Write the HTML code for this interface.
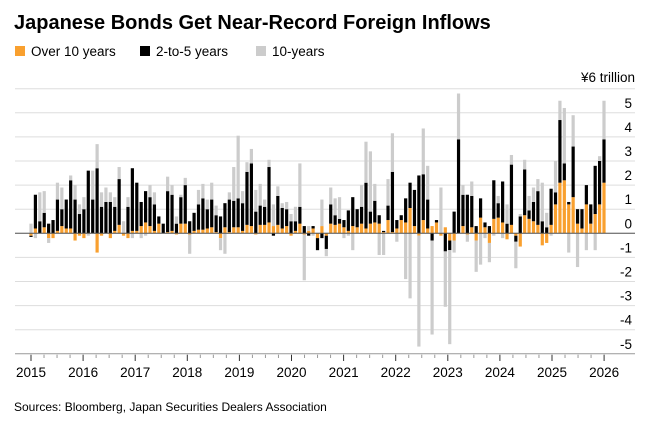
<!DOCTYPE html>
<html><head><meta charset="utf-8"><style>
body{margin:0;background:#fff;width:650px;height:425px;overflow:hidden;font-family:"Liberation Sans",sans-serif}
</style></head><body>
<svg id="c" width="650" height="425" xmlns="http://www.w3.org/2000/svg" font-family="Liberation Sans, sans-serif">
<text x="14" y="29" font-size="20" font-weight="bold" fill="#000">Japanese Bonds Get Near-Record Foreign Inflows</text>
<rect x="15" y="46" width="10" height="10" fill="#f9a02f"/><text x="31" y="56" font-size="13.5">Over 10 years</text>
<rect x="140" y="46" width="10" height="10" fill="#000"/><text x="156" y="56" font-size="13.5">2-to-5 years</text>
<rect x="256" y="46" width="10" height="10" fill="#ccc"/><text x="272" y="56" font-size="13.5">10-years</text>
<text x="635" y="82" font-size="13.5" text-anchor="end">¥6 trillion</text>
<g id="grid"></g>
<g id="bars"></g>
<text x="14" y="411" font-size="12">Sources: Bloomberg, Japan Securities Dealers Association</text>
</svg>
<script>
var Z=233.3,U=24.1,svg="http://www.w3.org/2000/svg";
function el(p,t,a){var e=document.createElementNS(svg,t);for(var k in a)e.setAttribute(k,a[k]);p.appendChild(e);return e;}
var G=document.getElementById('grid');
for(var v=6;v>=-5;v--){var y=Z-v*U;el(G,'line',{x1:15,x2:635,y1:y,y2:y,stroke:v==-5?'#999':'#ddd','stroke-width':1});
 if(v<6){var t=el(G,'text',{x:632,y:y-5,'font-size':13.5,'text-anchor':'end'});t.textContent=v;}}
for(var yr=2015;yr<=2026;yr++){var x=31+(yr-2015)*52.1;el(G,'line',{x1:x,x2:x,y1:354.7,y2:361,stroke:'#333'});
 var t=el(G,'text',{x:x,y:377,'font-size':13.5,'text-anchor':'middle'});t.textContent=yr;
 if(yr<2026){for(var q=1;q<4;q++){var xq=x+q*13.02;el(G,'line',{x1:xq,x2:xq,y1:354.7,y2:358,stroke:'#999'});}}}
var D=[
[-.1,-.05,.4],[.2,1.4,-.2],[0,.5,1.2],[.25,.6,.9],[-.2,.4,-.2],[-.2,.55,0],[.1,1.3,.7],[.3,.7,.9],[.2,1.2,0],[.2,2.0,.2],[-.3,1.4,.6],[-.1,.8,.4],
[-.2,1.0,.5],[0,2.6,-.1],[0,1.4,1.2],[-.8,2.7,1.0],[-.1,1.1,.6],[0,1.3,.6],[-.2,1.3,.4],[.1,1.0,.4],[.35,1.9,.5],[-.1,0,.5],[-.2,1.1,.4],[.1,2.6,-.2],
[.1,2.0,0],[.3,1.0,-.2],[.45,1.3,-.1],[.3,1.2,.5],[.1,1.1,.5],[.4,.3,0],[0,.4,0],[.05,1.7,.6],[.1,1.5,.4],[-.05,.4,.3],[.4,1.1,.1],
[.4,1.6,.3],[-.05,.5,-.8],[.1,.75,0],[.15,1.05,.6],[.15,1.3,.6],[.2,.8,.4],[.25,1.15,.7],[.05,.7,.4],[-.2,.7,-.5],[.25,1.0,-.85],[.05,1.35,.3],[.25,1.1,1.4],[.25,1.2,2.6],[.1,1.15,.5],[.35,2.2,.4],[.3,2.6,.6],[-.05,.9,.9],[.35,.8,.9],[.35,.75,.3],[.45,2.3,.3],[.3,-.1,.9],[.35,1.2,.4],[.2,.85,.2],[.3,.7,.3],[-.1,.5,.3],[.1,.4,.6],[.4,.7,1.8],[-.05,.3,-1.9],[.1,-.1,.2],[.2,.1,-.1],[-.2,-.5,0],[.3,-.2,1.1],[-.1,-.55,-.3],[.4,.8,.7],[.35,.4,.7],[.4,.2,.9],[.25,.3,-.2],[.1,.85,-.1],
[.3,1.2,-.7],[.25,.75,0],[.4,.7,.9],[.2,1.9,1.7],[.4,.5,2.5],[.45,.9,.7],[.4,.35,-.9],[.05,.05,-.9],[.55,.6,1.1],[.05,2.5,1.6],[.2,.35,-.35],[.55,.2,0],[.45,1.0,-1.9],[1.05,1.05,-2.7],[.3,1.5,0],[-.1,2.4,-4.6],[.55,1.9,1.9],[.2,1.2,1.4],[.3,-.3,-3.9],[.45,.1,0],[-.1,0,1.9],[.25,-.75,-2.3],[-.3,-.4,-3.9],[-.3,.9,-.5],[0,3.9,1.9],[.3,1.3,.4],[-.05,1.6,-.3],[.25,1.3,.6],[-.3,.3,-1.3],[.65,.8,-1.3],[.25,.2,-.2],[-.4,.3,-.8],[.6,1.6,-.1],[.65,.6,.3],[.45,1.7,-.2],[-.25,.4,.8],[.35,2.5,.4],[-.1,-.25,-1.1],[-.55,.7,.1],[.75,1.9,.4],[.6,.35,.6],[.5,.8,.6],[.35,1.4,.5],
[-.5,.5,1.6],[-.4,.25,.6],[.35,1.5,-.1],[1.2,.5,1.3],[2.1,2.6,.8],[2.2,.7,2.3],[1.2,.1,-.8],[1.5,2.1,1.3],[.4,.6,-1.4],[.2,.8,0],[1.2,.8,-.7],[.4,.8,0],[.8,2.0,-.7],[1.2,1.8,.2],[2.1,1.8,1.6]];
var B=document.getElementById('bars'),N=D.length,st=573/(N-1),C=['#f9a02f','#000','#ccc'];
D.forEach(function(d,i){var x=31+i*st-1.6,p=0,n=0;
 for(var k=0;k<3;k++){var v=d[k];if(v>=0){el(B,'rect',{x:x,y:Z-(p+v)*U,width:3.2,height:v*U,fill:C[k]});p+=v;}
 else{el(B,'rect',{x:x,y:Z-n*U,width:3.2,height:-v*U,fill:C[k]});n+=v;}}});
el(B,'line',{x1:15,x2:635,y1:Z,y2:Z,stroke:'#555','stroke-width':1});
</script>
</body></html>
